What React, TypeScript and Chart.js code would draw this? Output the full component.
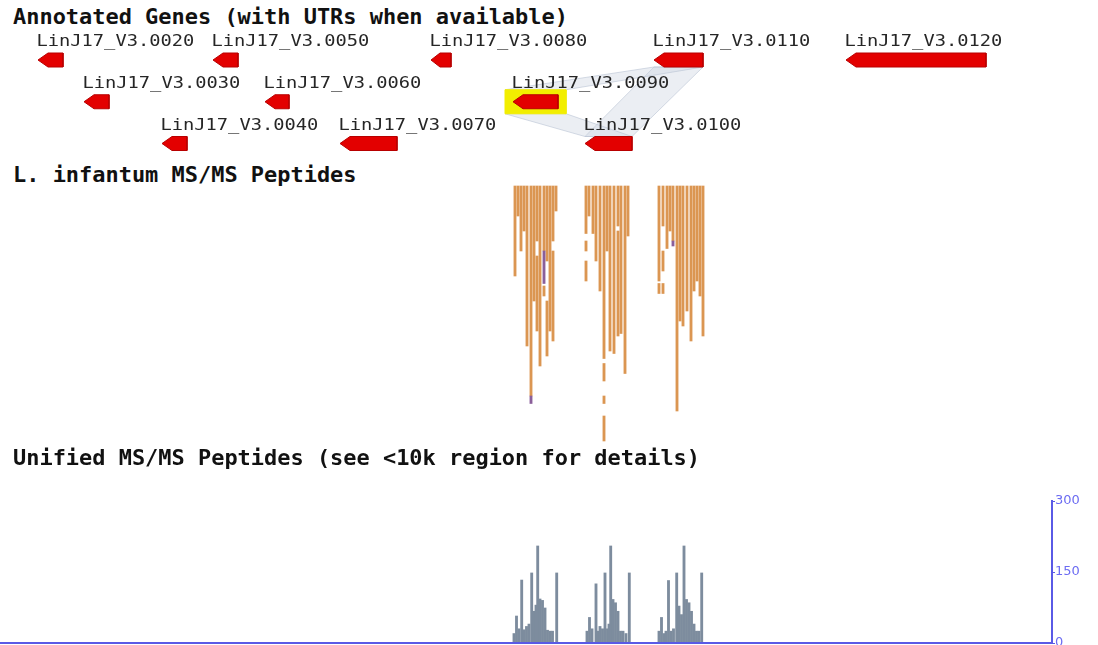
import { useEffect, useRef } from "react";
import { Chart, registerables } from "chart.js";

Chart.register(...registerables);

// Visible window of chromosome 17 (kb)
const viewStart = 0;
const viewEnd = 109.8;
const coverageViewEnd = 105.2;

// Annotated genes (all on the reverse strand)
const geneNames = [
  "LinJ17_V3.0020", "LinJ17_V3.0030", "LinJ17_V3.0040", "LinJ17_V3.0050",
  "LinJ17_V3.0060", "LinJ17_V3.0070", "LinJ17_V3.0080", "LinJ17_V3.0090",
  "LinJ17_V3.0100", "LinJ17_V3.0110", "LinJ17_V3.0120",
];
const geneStart = [3.8, 8.4, 16.2, 21.3, 26.5, 34.0, 43.1, 51.3, 58.5, 65.4, 84.6];
const geneEnd = [6.3, 10.9, 18.7, 23.8, 28.9, 39.7, 45.1, 55.8, 63.2, 70.3, 98.6];
const geneRow = [0, 1, 2, 0, 1, 2, 0, 1, 2, 0, 0];
const selectedGene = "LinJ17_V3.0090";
const geneLinks = [
  ["LinJ17_V3.0090", "LinJ17_V3.0110"],
  ["LinJ17_V3.0090", "LinJ17_V3.0100"],
  ["LinJ17_V3.0100", "LinJ17_V3.0110"],
];

// L. infantum MS/MS peptides: column position (kb) and stacked rows [from, to]
const pepPos = [
  51.5, 51.8, 52.1, 52.4, 52.7, 53.1, 53.4, 53.7, 53.7, 54.0, 54.4, 54.4, 54.7, 54.7, 55.0, 55.3, 55.3, 55.6,
  58.6, 58.6, 58.6, 58.9, 59.3, 59.6, 60.0, 60.4, 60.4, 60.4, 60.4, 60.7, 61.0, 61.4, 61.8, 61.8, 62.1, 62.5, 62.8,
  65.9, 65.9, 66.3, 66.3, 66.3, 66.7, 67.0, 67.3, 67.7, 68.0, 68.3, 68.7, 69.1, 69.4, 69.7, 70.0, 70.3,
];
const pepFrom = [
  0, 0, 0, 0, 0, 0, 0, 0, 28, 0, 0, 40, 0, 46, 0, 0, 26, 0,
  0, 22, 30, 0, 0, 0, 0, 0, 71, 84, 92, 0, 0, 0, 0, 18, 0, 0, 0,
  0, 39, 0, 26, 39, 0, 0, 0, 0, 0, 0, 0, 0, 0, 0, 0, 0,
];
const pepTo = [
  36, 12, 26, 18, 64, 84, 46, 22, 58, 72, 26, 44, 30, 68, 58, 22, 62, 10,
  19, 26, 38, 12, 19, 30, 42, 69, 78, 87, 102, 26, 66, 67, 16, 60, 59, 75, 20,
  38, 43, 16, 34, 43, 25, 18, 22, 90, 54, 56, 50, 62, 42, 38, 44, 60,
];
// Peptides flagged as best hits
const hitPos = [53.1, 54.4, 67.3];
const hitFrom = [84, 26, 22];
const hitTo = [87, 39, 24];

// Unified MS/MS peptide coverage
const covPos = [
  51.4, 51.65, 51.9, 52.17, 52.4, 52.65, 52.9, 53.17, 53.4, 53.6, 53.77, 54.0, 54.25, 54.5, 54.75, 55.0, 55.25, 55.67,
  58.7, 58.95, 59.2, 59.6, 59.8, 60.0, 60.25, 60.5, 60.75, 60.9, 61.07, 61.3, 61.55, 61.8, 62.05, 62.3, 62.6, 62.93,
  65.9, 66.15, 66.4, 66.6, 66.85, 67.1, 67.35, 67.67, 67.9, 68.15, 68.4, 68.65, 68.9, 69.15, 69.4, 69.65, 69.9, 70.17,
];
const covCount = [
  20, 57, 30, 133, 28, 35, 40, 148, 67, 80, 205, 93, 90, 74, 27, 25, 25, 148,
  25, 54, 30, 125, 25, 35, 30, 148, 30, 40, 205, 92, 85, 67, 25, 25, 20, 148,
  25, 54, 20, 25, 132, 25, 30, 148, 78, 60, 205, 92, 85, 67, 40, 25, 25, 148,
];
const covTicks = [0, 150, 300];

const BLUE = "#5a5ae6";
const ROW_PX = 41.75;
const GENE_TOP_PX = 60;
const GENE_H = 160;

const arrowHalf = 7 / ROW_PX;
const boxHalf = 12 / ROW_PX;

function arrowShape(s: number, e: number, r: number) {
  const hd = Math.min(1.0, (e - s) * 0.45);
  return [
    { x: s, y: r },
    { x: s + hd, y: r - arrowHalf },
    { x: e, y: r - arrowHalf },
    { x: e, y: r + arrowHalf },
    { x: s + hd, y: r + arrowHalf },
    { x: s, y: r },
  ];
}

function geneExtent(name: string) {
  const i = geneNames.indexOf(name);
  const sel = name === selectedGene;
  const pad = sel ? 0.8 : 0;
  const half = sel ? boxHalf : arrowHalf;
  return { s: geneStart[i] - pad, e: geneEnd[i] + pad, r: geneRow[i], half };
}

const geneLabels = {
  id: "geneLabels",
  afterDatasetsDraw(chart: any) {
    const { ctx } = chart;
    const x = chart.scales.x;
    const y = chart.scales.y;
    ctx.save();
    ctx.font = '16px "DejaVu Sans Mono"';
    ctx.fillStyle = "#262626";
    ctx.textBaseline = "alphabetic";
    geneNames.forEach((name, i) => {
      const px = x.getPixelForValue(geneStart[i]) - 1.5;
      const py = y.getPixelForValue(geneRow[i]) - 14;
      ctx.save();
      ctx.translate(px, py);
      ctx.scale(1.17, 1);
      ctx.fillText(name, 0, 0);
      ctx.restore();
    });
    ctx.restore();
  },
};

const headerStyle = (top: number): any => ({
  position: "absolute",
  left: 13,
  top,
  margin: 0,
  font: 'bold 21px "DejaVu Sans Mono"',
  lineHeight: "21px",
  color: "#111",
  whiteSpace: "pre",
  transform: "scaleX(1.045)",
  transformOrigin: "0 0",
});

export default function App() {
  const genesRef = useRef<HTMLCanvasElement>(null);
  const pepRef = useRef<HTMLCanvasElement>(null);
  const covRef = useRef<HTMLCanvasElement>(null);

  useEffect(() => {
    document.body.style.margin = "0";
    document.body.style.overflow = "hidden";
    const charts: Chart[] = [];

    const baseOpts = {
      responsive: false,
      animation: false as const,
      events: [] as any[],
      plugins: { legend: { display: false }, tooltip: { enabled: false } },
    };

    // Gene track
    const geneDatasets: any[] = [];
    geneNames.forEach((name, i) => {
      geneDatasets.push({
        type: "line",
        data: arrowShape(geneStart[i], geneEnd[i], geneRow[i]),
        fill: "shape",
        backgroundColor: "#e30000",
        borderColor: "#b80000",
        borderWidth: 1,
        pointRadius: 0,
        tension: 0,
        clip: false,
        order: 0,
      });
    });
    const sel = geneExtent(selectedGene);
    geneDatasets.push({
      type: "line",
      data: [
        { x: sel.s, y: sel.r - sel.half },
        { x: sel.e, y: sel.r - sel.half },
        { x: sel.e, y: sel.r + sel.half },
        { x: sel.s, y: sel.r + sel.half },
        { x: sel.s, y: sel.r - sel.half },
      ],
      fill: "shape",
      backgroundColor: "#f2ee00",
      borderColor: "#f2ee00",
      borderWidth: 1,
      pointRadius: 0,
      order: 1,
    });
    geneLinks.forEach(([a, b]) => {
      const A = geneExtent(a);
      const B = geneExtent(b);
      const lower = A.r > B.r ? A : B;
      const upper = A.r > B.r ? B : A;
      const yl = lower.r - lower.half;
      const yu = upper.r + upper.half;
      geneDatasets.push({
        type: "line",
        data: [
          { x: lower.s, y: yl },
          { x: lower.e, y: yl },
          { x: upper.e, y: yu },
          { x: upper.s, y: yu },
          { x: lower.s, y: yl },
        ],
        fill: "shape",
        backgroundColor: "rgba(205,212,225,0.4)",
        borderColor: "rgba(185,195,212,0.6)",
        borderWidth: 1,
        pointRadius: 0,
        order: 2,
      });
    });

    charts.push(
      new Chart(genesRef.current!, {
        type: "line",
        data: { datasets: geneDatasets },
        options: {
          ...baseOpts,
          layout: { padding: 0 },
          scales: {
            x: { type: "linear", min: viewStart, max: viewEnd, display: false },
            y: {
              type: "linear",
              reverse: true,
              min: -GENE_TOP_PX / ROW_PX,
              max: (GENE_H - GENE_TOP_PX) / ROW_PX,
              display: false,
            },
          },
        } as any,
        plugins: [geneLabels],
      })
    );

    // Peptide track
    const pepData = [
      ...pepPos.map((p, i) => ({ x: p, y: [pepFrom[i], pepTo[i]] })),
      ...hitPos.map((p, i) => ({ x: p, y: [hitFrom[i], hitTo[i]] })),
    ];
    const pepColors = [
      ...pepPos.map(() => "#db9652"),
      ...hitPos.map(() => "#8a5f9a"),
    ];
    charts.push(
      new Chart(pepRef.current!, {
        type: "bar",
        data: {
          datasets: [
            {
              data: pepData as any,
              backgroundColor: pepColors,
              barThickness: 2.2,
              borderWidth: 0,
            },
          ],
        },
        options: {
          ...baseOpts,
          layout: { padding: 0 },
          scales: {
            x: { type: "linear", min: viewStart, max: viewEnd, display: false, offset: false },
            y: { type: "linear", reverse: true, min: -2.4, max: 105.6, display: false },
          },
        } as any,
      })
    );

    // Coverage histogram
    charts.push(
      new Chart(covRef.current!, {
        type: "bar",
        data: {
          datasets: [
            {
              type: "line",
              data: [
                { x: viewStart, y: 0 },
                { x: coverageViewEnd, y: 0 },
              ],
              borderColor: BLUE,
              borderWidth: 2,
              pointRadius: 0,
              clip: false,
              order: 0,
            } as any,
            {
              type: "bar",
              data: covPos.map((p, i) => ({ x: p, y: covCount[i] })),
              backgroundColor: "#7d8c9e",
              barThickness: 2.2,
              borderWidth: 0,
              order: 1,
            },
          ],
        },
        options: {
          ...baseOpts,
          layout: { padding: { top: 21, bottom: 17, left: 0, right: 0 } },
          scales: {
            x: { type: "linear", min: viewStart, max: coverageViewEnd, display: false, offset: false },
            y: {
              type: "linear",
              position: "right",
              min: covTicks[0],
              max: covTicks[covTicks.length - 1],
              afterBuildTicks: (s: any) => {
                s.ticks = covTicks.map((v) => ({ value: v }));
              },
              ticks: {
                color: "#6c6cf2",
                padding: 0,
                font: { family: "DejaVu Sans", size: 13 },
              },
              grid: { drawOnChartArea: false, tickLength: 3, color: BLUE },
              border: { color: BLUE, width: 2 },
              afterFit: (s: any) => {
                s.width = 46;
              },
            },
          },
        } as any,
      })
    );

    return () => charts.forEach((c) => c.destroy());
  }, []);

  return (
    <div style={{ position: "relative", width: 1098, height: 645, overflow: "hidden", background: "#fff" }}>
      <div style={headerStyle(7)}>Annotated Genes (with UTRs when available)</div>
      <canvas ref={genesRef} width={1098} height={160} style={{ position: "absolute", left: 0, top: 0 }} />
      <div style={headerStyle(165)}>L. infantum MS/MS Peptides</div>
      <canvas ref={pepRef} width={1098} height={270} style={{ position: "absolute", left: 0, top: 180 }} />
      <div style={headerStyle(448)}>Unified MS/MS Peptides (see &lt;10k region for details)</div>
      <canvas ref={covRef} width={1098} height={180} style={{ position: "absolute", left: 0, top: 480 }} />
    </div>
  );
}
